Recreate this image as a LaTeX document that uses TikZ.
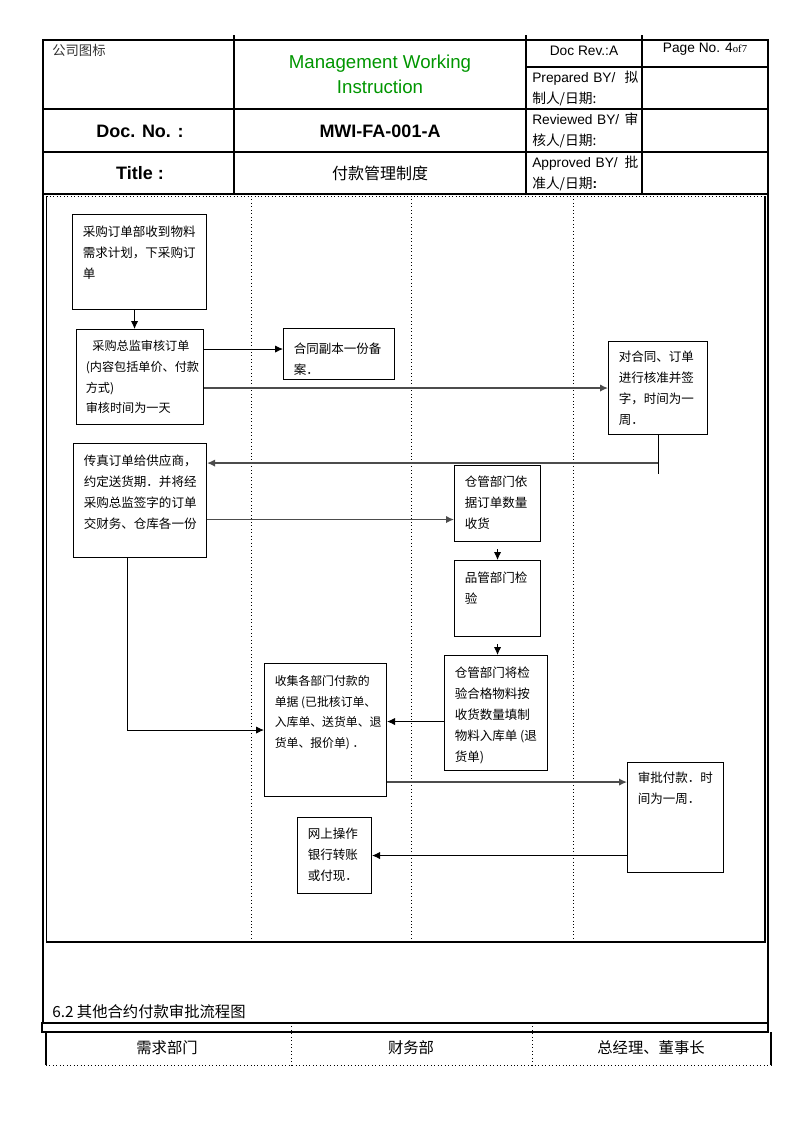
\documentclass[tikz,border=0pt]{standalone}
\usepackage{fontspec}
\setmainfont{Liberation Sans}
\newfontfamily\cjk{Noto Sans CJK SC}
\newfontfamily\timesf{Liberation Serif}
\usepackage{tikz}
\usetikzlibrary{calc,arrows.meta}
\definecolor{mwigreen}{RGB}{0,150,0}
\def\pxl{0.75pt}
\tikzset{
  box/.style = {draw=black, line width=0.8pt, anchor=north west, inner sep=0pt},
  boxtxt/.style = {anchor=north west, align=left, inner xsep=10.5*\pxl,
    inner ysep=12*\pxl, font=\cjk\fontsize{9.4}{15.6}\selectfont},
  arr/.style = {-{Latex[length=6pt,width=5.5pt]}, line width=0.7pt},
  arrg/.style = {arr, draw=black!70, line width=1pt},% gray connectors
  lane/.style = {dotted, line width=0.6pt},
  frame/.style = {line width=0.8pt},
  hdr/.style = {inner sep=0pt, font=\fontsize{10.3}{15.75}\selectfont}
}
\begin{document}
\begin{tikzpicture}[x=0.75pt, y=-0.75pt]
\fill[white] (0,0) rectangle (793,1122);
\useasboundingbox (0,0) rectangle (793,1122);

% header table
\draw[frame] (43,40) rectangle (768,194);
\draw[line width=1.6pt] (768,40) -- (768,194);
\draw[frame] (43,109) -- (768,109) (43,152) -- (768,152) (526,67) -- (768,67);
\foreach \hx in {234,526,642}
  \draw[frame] (\hx,35) -- (\hx,194);

\node[anchor=north west, inner sep=0pt, text=black!80,
  font=\cjk\fontsize{10}{12}\selectfont] (logo) at (52,44) {公司图标};
\node[align=center, text=mwigreen, font=\fontsize{14}{18.75}\selectfont]
  (mwi) at (380,74.5) {Management Working\\Instruction};
\node[font=\bfseries\fontsize{13.5}{16}\selectfont] (docno) at (140,131)
  {Doc. No. :};
\node[font=\bfseries\fontsize{13.5}{16}\selectfont] (docnum) at (380,131)
  {MWI-FA-001-A};
\node[font=\bfseries\fontsize{13.5}{16}\selectfont] (title) at (140,173)
  {Title :};
\node[font=\cjk\fontsize{12}{14}\selectfont] (titlecn) at (380,173)
  {付款管理制度};
\node[hdr] (rev) at (584,51) {Doc Rev.:A};
\node[hdr] (page) at (705,49)
  {Page No. 4{\timesf\fontsize{8}{10}\selectfont of7}};
\node[hdr, anchor=west, align=left, text width=106*\pxl] (prep) at (532,88)
  {Prepared BY/\hfill{\cjk 拟}\\{\cjk 制人/日期:}};
\node[hdr, anchor=west, align=left, text width=106*\pxl] (revw) at (532,130.5)
  {Reviewed BY/\hfill{\cjk 审}\\{\cjk 核人/日期:}};
\node[hdr, anchor=west, align=left, text width=106*\pxl] (appr) at (532,173.5)
  {Approved BY/\hfill{\cjk 批}\\{\cjk 准人/日期}\textbf{:}};

% flow frame and lanes
\draw[frame] (43,194) -- (43,1023) (768,194) -- (768,1023);
\draw[frame] (46.5,196) -- (46.5,942) -- (765,942) -- (765,196);
\draw[lane] (46.5,196) -- (765,196);
\foreach \lx in {251,411,573}
  \draw[lane] (\lx,196) -- (\lx,942);

% boxes
\node[box, minimum width=134*\pxl, minimum height=95*\pxl,
  label={[boxtxt]north west:{采购订单部收到物料\\需求计划，下采购订\\单}}]
  (order) at (72,214) {};
\node[box, minimum width=127*\pxl, minimum height=95*\pxl,
  label={[boxtxt, inner xsep=9.5*\pxl, inner ysep=11*\pxl, font=\cjk\fontsize{9.1}{15.6}\selectfont]north west:{\hspace*{5pt}采购总监审核订单\\(内容包括单价、付款\\方式)\\审核时间为一天}}]
  (review) at (76,329) {};
\node[box, minimum width=111*\pxl, minimum height=51*\pxl,
  label={[boxtxt, inner ysep=15*\pxl]north west:{合同副本一份备\\案．}}]
  (copy) at (283,328) {};
\node[box, minimum width=99*\pxl, minimum height=93*\pxl,
  label={[boxtxt, inner ysep=10*\pxl]north west:{对合同、订单\\进行核准并签\\字，时间为一\\周．}}]
  (approve) at (608,341) {};
\node[box, minimum width=133*\pxl, minimum height=114*\pxl,
  label={[boxtxt]north west:{传真订单给供应商，\\约定送货期．并将经\\采购总监签字的订单\\交财务、仓库各一份}}]
  (fax) at (73,443) {};
\node[box, minimum width=86*\pxl, minimum height=76*\pxl,
  label={[boxtxt, inner ysep=11*\pxl]north west:{仓管部门依\\据订单数量\\收货}}]
  (receive) at (454,465) {};
\node[box, minimum width=86*\pxl, minimum height=76*\pxl,
  label={[boxtxt]north west:{品管部门检\\验}}]
  (inspect) at (454,560) {};
\node[box, minimum width=103*\pxl, minimum height=115*\pxl,
  label={[boxtxt]north west:{仓管部门将检\\验合格物料按\\收货数量填制\\物料入库单 (退\\货单)}}]
  (stockin) at (444,655) {};
\node[box, minimum width=122*\pxl, minimum height=133*\pxl,
  label={[boxtxt, font=\cjk\fontsize{8.9}{15.6}\selectfont]north west:{收集各部门付款的\\单据 (已批核订单、\\入库单、送货单、退\\货单、报价单) ．}}]
  (collect) at (264,663) {};
\node[box, minimum width=96*\pxl, minimum height=110*\pxl,
  label={[boxtxt, inner ysep=10*\pxl]north west:{审批付款．时\\间为一周．}}]
  (payok) at (627,762) {};
\node[box, minimum width=74*\pxl, minimum height=76*\pxl,
  label={[boxtxt, inner ysep=11*\pxl]north west:{网上操作\\银行转账\\或付现．}}]
  (bank) at (297,817) {};

% connectors
\coordinate (o1) at ($(order.south)+(-5,0)$);
\draw[arr] (o1) -- (o1 |- review.north);
\coordinate (r1) at ($(copy.west)+(0,-5)$);
\draw[arr] (r1 -| review.east) -- (r1);
\draw[arrg] (approve.west -| review.east) -- (approve.west);
\coordinate (a1) at ($(approve.south)+(0,39)$);
\coordinate (a2) at ($(approve.south)+(0,28)$);
\draw[line width=0.7pt] (approve.south) -- (a1);
\draw[arrg] (a2) -- (a2 -| fax.east);
\coordinate (f1) at ($(fax.east)+(0,19)$);
\draw[arrg] (f1) -- (f1 -| receive.west);
\draw[arr] ([yshift=-7*\pxl]receive.south) -- (inspect.north);
\coordinate (i1) at ($(inspect.south)+(0,7)$);
\draw[arr] (i1) -- (i1 |- stockin.north);
\coordinate (s1) at ($(stockin.west)+(0,8.5)$);
\draw[arr] (s1) -- (s1 -| collect.east);
\coordinate (f2) at ($(fax.south)+(-12.5,0)$);
\draw[arr] (f2) |- (collect.west);
\coordinate (c1) at ($(collect.south east)+(0,-15)$);
\draw[arrg] (c1) -- (c1 -| payok.west);
\draw[arr] (bank.east -| payok.west) -- (bank.east);

% section 6.2
\node[anchor=west, inner sep=0pt, font=\cjk\fontsize{11.5}{14}\selectfont]
  (sect) at (52,1012) {6.2 其他合约付款审批流程图};
\draw[frame] (42,1023) rectangle (768,1032);
\draw[frame] (46,1032) -- (46,1065) (771,1032) -- (771,1065);
\draw[lane] (46,1065) -- (771,1065);
\foreach \tx in {291,532}
  \draw[lane] (\tx,1023) -- (\tx,1065);
\node[font=\cjk\fontsize{11.5}{14}\selectfont] (need) at (167,1048) {需求部门};
\node[font=\cjk\fontsize{11.5}{14}\selectfont] (fin) at (411,1048) {财务部};
\node[font=\cjk\fontsize{11.5}{14}\selectfont] (gm) at (651,1048) {总经理、董事长};
\end{tikzpicture}
\end{document}
